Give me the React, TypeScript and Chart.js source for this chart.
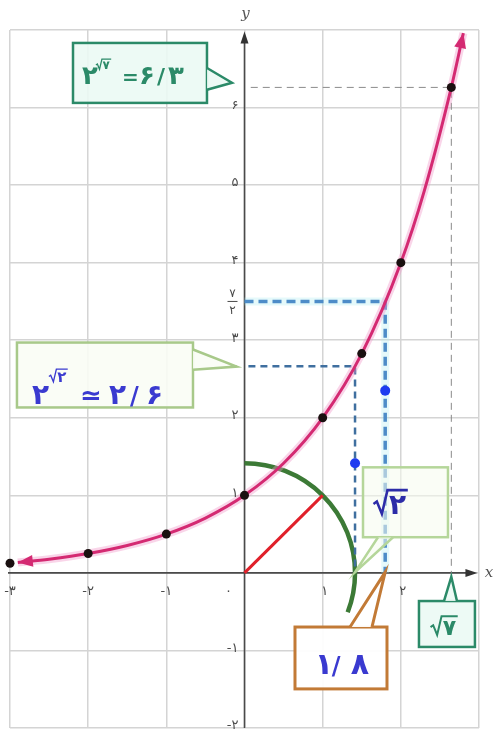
import { useEffect, useRef } from "react";
import { Chart, registerables } from "chart.js";
Chart.register(...registerables);

// ---- data (chart units) ----
const curveX = [-2.9, -2.5, -2, -1.5, -1, -0.5, 0, 0.5, 1, 1.5, 2, 2.3, 2.6458, 2.8];
const curveY = [0.134, 0.177, 0.25, 0.354, 0.5, 0.707, 1, 1.414, 2, 2.828, 4, 4.925, 6.26, 6.96];
const dotX = [-3, -2, -1, 0, 1, 1.5, 2, 2.6458];
const dotY = [0.125, 0.25, 0.5, 1, 2, 2.828, 4, 6.26];
const blueDotX = [1.414, 1.8];
const blueDotY = [1.414, 2.35];
const redLineX = [0, 1];
const redLineY = [0, 1];
const guide7X = [0.08, 2.6458, 2.6458];
const guide7Y = [6.26, 6.26, -0.05];
const guideSqrt2X = [0.05, 1.414, 1.414];
const guideSqrt2Y = [2.665, 2.665, 0];
const guide18X = [0, 1.8, 1.8];
const guide18Y = [3.5, 3.5, 0];
const arcRadius = 1.414;
const arcFromDeg = 90;
const arcToDeg = -21;
const xTicks = [-3, -2, -1, 0, 1, 2];
const xTickLabels = ["-۳", "-۲", "-۱", "۰", "۱", "۲"];
const yTicks = [-2, -1, 1, 2, 3, 4, 5, 6];
const yTickLabels = ["-۲", "-۱", "۱", "۲", "۳", "۴", "۵", "۶"];

const pts = (xs: number[], ys: number[]) => xs.map((x, i) => ({ x, y: ys[i] }));

const FONT = "'DejaVu Sans', sans-serif";
const PINK = "#d42a72";
const TEAL = "#2b8a68";
const PURPLE = "#3a3ad0";

type Piece = { t: string; dx: number; dy?: number; size: number; root?: boolean };
type Callout = {
  box: [number, number, number, number];
  ptr: [number, number, number, number, number, number];
  stroke: string;
  fill: string;
  lw: number;
  color: string;
  anchor: [number, number];
  pieces: Piece[];
};

const callouts: Callout[] = [
  {
    box: [-2.194, 6.833, -0.48, 6.06],
    ptr: [-0.48, 6.51, -0.16, 6.32, -0.48, 6.23],
    stroke: TEAL, fill: "rgba(235,250,244,0.9)", lw: 2.5, color: TEAL,
    anchor: [-2.08, 6.3],
    pieces: [
      { t: "۲", dx: 0, size: 26 },
      { t: "۷", dx: 14, dy: -15, size: 12, root: true },
      { t: "=", dx: 40, size: 20 },
      { t: "۶", dx: 57, size: 26 },
      { t: "/", dx: 75, size: 22 },
      { t: "۳", dx: 86, size: 26 },
    ],
  },
  {
    box: [-2.911, 2.97, -0.659, 2.133],
    ptr: [-0.659, 2.88, -0.1, 2.66, -0.659, 2.62],
    stroke: "#a8c98a", fill: "rgba(250,253,245,0.9)", lw: 2.5, color: PURPLE,
    anchor: [-2.72, 2.18],
    pieces: [
      { t: "۲", dx: 0, size: 28 },
      { t: "۲", dx: 17, dy: -22, size: 15, root: true },
      { t: "≃", dx: 48, size: 26 },
      { t: "۲", dx: 77, size: 28 },
      { t: "/", dx: 98, size: 24 },
      { t: "۶", dx: 114, size: 28 },
    ],
  },
  {
    box: [1.516, 1.361, 2.603, 0.46],
    ptr: [1.708, 0.46, 1.414, 0.01, 1.9, 0.46],
    stroke: "#b5d69a", fill: "rgba(246,252,238,0.55)", lw: 2.5, color: "#2c2ca8",
    anchor: [1.65, 0.76],
    pieces: [{ t: "۲", dx: 0, size: 28, root: true }],
  },
  {
    box: [0.646, -0.698, 1.823, -1.496],
    ptr: [1.35, -0.698, 1.8, 0.01, 1.631, -0.698],
    stroke: "#c27a36", fill: "rgba(255,255,255,0.95)", lw: 3, color: PURPLE,
    anchor: [0.9, -1.3],
    pieces: [
      { t: "۱", dx: 0, size: 30 },
      { t: "/", dx: 17, size: 24 },
      { t: "۸", dx: 36, size: 30 },
    ],
  },
  {
    box: [2.232, -0.363, 2.948, -0.955],
    ptr: [2.552, -0.363, 2.6458, -0.05, 2.718, -0.363],
    stroke: TEAL, fill: "rgba(235,250,244,0.9)", lw: 2.5, color: TEAL,
    anchor: [2.38, -0.8],
    pieces: [{ t: "۷", dx: 0, size: 22, root: true }],
  },
];

function drawRoot(ctx: CanvasRenderingContext2D, x: number, base: number, digit: string, size: number, color: string) {
  ctx.font = `bold ${size}px ${FONT}`;
  const w = ctx.measureText(digit).width;
  const h = size * 0.85;
  ctx.strokeStyle = color;
  ctx.lineWidth = Math.max(1.3, size / 11);
  ctx.lineJoin = "miter";
  ctx.beginPath();
  ctx.moveTo(x, base - h * 0.42);
  ctx.lineTo(x + size * 0.12, base - h * 0.52);
  ctx.lineTo(x + size * 0.3, base);
  ctx.lineTo(x + size * 0.5, base - h);
  ctx.lineTo(x + size * 0.58 + w + 1, base - h);
  ctx.stroke();
  ctx.fillStyle = color;
  ctx.fillText(digit, x + size * 0.55, base);
}

const overlay = {
  id: "overlay",
  beforeDatasetsDraw(chart: any) {
    const { ctx, scales } = chart;
    const xs = scales.x, ys = scales.y;
    const px = (v: number) => xs.getPixelForValue(v);
    const py = (v: number) => ys.getPixelForValue(v);
    ctx.save();
    ctx.strokeStyle = "#4a4a4a";
    ctx.fillStyle = "#333";
    ctx.lineWidth = 1.6;
    ctx.beginPath();
    ctx.moveTo(px(-3) - 2, py(0));
    ctx.lineTo(px(2.98) - 6, py(0));
    ctx.moveTo(px(0), py(-2));
    ctx.lineTo(px(0), py(6.98) + 6);
    ctx.stroke();
    const ax = px(2.98), ay = py(0);
    ctx.beginPath();
    ctx.moveTo(ax, ay);
    ctx.lineTo(ax - 12, ay - 4);
    ctx.lineTo(ax - 12, ay + 4);
    ctx.closePath();
    ctx.fill();
    const bx = px(0), by = py(6.98);
    ctx.beginPath();
    ctx.moveTo(bx, by);
    ctx.lineTo(bx - 4, by + 12);
    ctx.lineTo(bx + 4, by + 12);
    ctx.closePath();
    ctx.fill();
    const cx = px(0), cy = py(0);
    const rx = px(arcRadius) - cx, ry = cy - py(arcRadius);
    ctx.strokeStyle = "#3c7a36";
    ctx.lineWidth = 4.5;
    ctx.lineCap = "butt";
    ctx.beginPath();
    ctx.ellipse(cx, cy, rx, ry, 0, (-arcFromDeg * Math.PI) / 180, (-arcToDeg * Math.PI) / 180);
    ctx.stroke();
    ctx.restore();
  },
  afterDatasetsDraw(chart: any) {
    const { ctx, scales } = chart;
    const xs = scales.x, ys = scales.y;
    const px = (v: number) => xs.getPixelForValue(v);
    const py = (v: number) => ys.getPixelForValue(v);
    ctx.save();
    const drawHead = (x1: number, y1: number, x2: number, y2: number) => {
      const a = Math.atan2(py(y2) - py(y1), px(x2) - px(x1));
      const tx = px(x2), ty = py(y2);
      ctx.fillStyle = PINK;
      ctx.beginPath();
      ctx.moveTo(tx, ty);
      ctx.lineTo(tx - 15 * Math.cos(a) + 6 * Math.sin(a), ty - 15 * Math.sin(a) - 6 * Math.cos(a));
      ctx.lineTo(tx - 15 * Math.cos(a) - 6 * Math.sin(a), ty - 15 * Math.sin(a) + 6 * Math.cos(a));
      ctx.closePath();
      ctx.fill();
    };
    const n = curveX.length;
    drawHead(curveX[n - 2], curveY[n - 2], curveX[n - 1], curveY[n - 1]);
    drawHead(curveX[1], curveY[1], curveX[0], curveY[0]);

    ctx.fillStyle = "#4a4a4a";
    ctx.font = `13px ${FONT}`;
    ctx.textBaseline = "alphabetic";
    ctx.textAlign = "center";
    xTicks.forEach((v, i) => {
      const off = v === 0 ? -16 : v < 0 ? 0 : 2;
      ctx.fillText(xTickLabels[i], px(v) + off, py(0) + 22);
    });
    ctx.textAlign = "right";
    ctx.textBaseline = "middle";
    yTicks.forEach((v, i) => {
      ctx.fillText(yTickLabels[i], px(0) - 6, py(v) - 2);
    });
    ctx.textAlign = "center";
    ctx.font = `12px ${FONT}`;
    const fx = px(0) - 12, fy = py(3.5);
    ctx.fillText("۷", fx, fy - 8);
    ctx.fillText("۲", fx, fy + 9);
    ctx.strokeStyle = "#4a4a4a";
    ctx.lineWidth = 1;
    ctx.beginPath();
    ctx.moveTo(fx - 5, fy);
    ctx.lineTo(fx + 5, fy);
    ctx.stroke();
    ctx.font = `italic 15px 'DejaVu Serif', serif`;
    ctx.fillStyle = "#555";
    ctx.fillText("y", px(0) + 1, py(6.98) - 17);
    ctx.fillText("x", px(3) + 10, py(0));

    callouts.forEach((c) => {
      const [x1, y1, x2, y2] = c.box.map((v, i) => (i % 2 === 0 ? px(v) : py(v)));
      const p = c.ptr;
      ctx.fillStyle = c.fill;
      ctx.strokeStyle = c.stroke;
      ctx.lineWidth = c.lw;
      ctx.lineJoin = "miter";
      ctx.fillRect(x1, y1, x2 - x1, y2 - y1);
      ctx.strokeRect(x1, y1, x2 - x1, y2 - y1);
      ctx.beginPath();
      ctx.moveTo(px(p[0]), py(p[1]));
      ctx.lineTo(px(p[2]), py(p[3]));
      ctx.lineTo(px(p[4]), py(p[5]));
      ctx.closePath();
      ctx.fill();
      ctx.beginPath();
      ctx.moveTo(px(p[0]), py(p[1]));
      ctx.lineTo(px(p[2]), py(p[3]));
      ctx.lineTo(px(p[4]), py(p[5]));
      ctx.stroke();
      const ax0 = px(c.anchor[0]), ay0 = py(c.anchor[1]);
      ctx.textAlign = "left";
      ctx.textBaseline = "alphabetic";
      c.pieces.forEach((pc) => {
        const x = ax0 + pc.dx, y = ay0 + (pc.dy || 0);
        if (pc.root) {
          drawRoot(ctx, x, y, pc.t, pc.size, c.color);
        } else {
          ctx.font = `bold ${pc.size}px ${FONT}`;
          ctx.fillStyle = c.color;
          ctx.fillText(pc.t, x, y);
        }
      });
    });
    ctx.restore();
  },
};

export default function App() {
  const ref = useRef<HTMLCanvasElement>(null);
  useEffect(() => {
    const chart = new Chart(ref.current!, {
      type: "scatter",
      data: {
        datasets: [
          {
            label: "dots", data: pts(dotX, dotY), showLine: false, order: 1,
            pointRadius: 4.5, pointBackgroundColor: "#1a1010", pointBorderWidth: 0, clip: false,
          } as any,
          {
            label: "blueDots", data: pts(blueDotX, blueDotY), showLine: false, order: 1,
            pointRadius: 5, pointBackgroundColor: "#1e3cf0", pointBorderWidth: 0, clip: false,
          },
          {
            label: "curve", data: pts(curveX, curveY), showLine: true, order: 2,
            borderColor: PINK, borderWidth: 3, pointRadius: 0, cubicInterpolationMode: "monotone", clip: false,
          },
          {
            label: "curveGlow", data: pts(curveX, curveY), showLine: true, order: 3,
            borderColor: "rgba(240,150,200,0.4)", borderWidth: 8, pointRadius: 0, cubicInterpolationMode: "monotone", clip: false,
          },
          {
            label: "red", data: pts(redLineX, redLineY), showLine: true, order: 4,
            borderColor: "#e0202a", borderWidth: 3, pointRadius: 0,
          },
          {
            label: "g18", data: pts(guide18X, guide18Y), showLine: true, order: 5,
            borderColor: "#4d8cc8", borderWidth: 3.5, borderDash: [9, 5], pointRadius: 0,
          },
          {
            label: "g18glow", data: pts(guide18X, guide18Y), showLine: true, order: 6,
            borderColor: "rgba(170,235,240,0.3)", borderWidth: 8, pointRadius: 0,
          },
          {
            label: "gs2", data: pts(guideSqrt2X, guideSqrt2Y), showLine: true, order: 5,
            borderColor: "#3f6f9f", borderWidth: 2.5, borderDash: [7, 5], pointRadius: 0,
          },
          {
            label: "g7", data: pts(guide7X, guide7Y), showLine: true, order: 7,
            borderColor: "#8a8a8a", borderWidth: 1, borderDash: [7, 5], pointRadius: 0,
          },
        ],
      },
      options: {
        animation: false,
        responsive: false,
        layout: { padding: { left: 10, right: 16, top: 30, bottom: 4 } },
        plugins: { legend: { display: false }, tooltip: { enabled: false } },
        scales: {
          x: {
            type: "linear", min: -3, max: 3,
            ticks: { display: false, stepSize: 1 },
            grid: { color: "#d4d4d4", lineWidth: 1.5, drawTicks: false },
            border: { display: false },
          },
          y: {
            type: "linear", min: -2, max: 7,
            ticks: { display: false, stepSize: 1 },
            grid: { color: "#d4d4d4", lineWidth: 1.5, drawTicks: false },
            border: { display: false },
          },
        },
      },
      plugins: [overlay],
    });
    return () => chart.destroy();
  }, []);
  return (
    <canvas
      ref={ref}
      width={495}
      height={733}
      style={{ position: "absolute", left: 0, top: 0, width: 495, height: 733 }}
    />
  );
}
